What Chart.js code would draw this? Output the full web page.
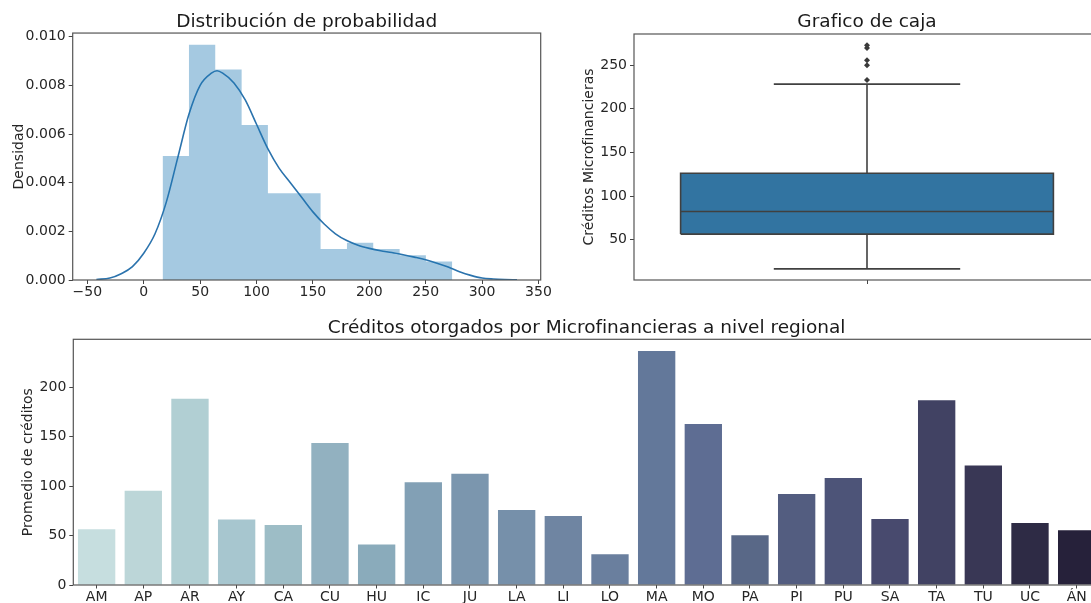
<!DOCTYPE html>
<html lang="es">
<head>
<meta charset="utf-8">
<title>Créditos otorgados por Microfinancieras</title>
<script src="https://cdn.jsdelivr.net/npm/chart.js@4.4.1/dist/chart.umd.min.js"></script>
<style>
  html, body { margin: 0; padding: 0; background: #fff; width: 1091px; height: 603px; overflow: hidden; }
  .panel { position: absolute; }
  #p1 { left: 0; top: 0; width: 560px; height: 303px; }
  #p2 { left: 560px; top: 0; width: 560px; height: 303px; }
  #p3 { left: 0; top: 303px; width: 1120px; height: 310px; }
</style>
</head>
<body>
<div class="panel" id="p1"><canvas id="c1"></canvas></div>
<div class="panel" id="p2"><canvas id="c2"></canvas></div>
<div class="panel" id="p3"><canvas id="c3"></canvas></div>
<script>
// ---- Distribución de probabilidad: histograma (densidad) + curva KDE ----
const histEdges = [16.7, 40.1, 63.4, 86.8, 110.1, 133.5, 156.8, 180.2, 203.5, 226.9, 250.2, 273.6];
const histDensity = [0.0051, 0.00967, 0.00865, 0.00637, 0.00357, 0.00357, 0.00127, 0.00153, 0.00127, 0.00102, 0.00076];
const kdeX = [-42, -30, -20, -10, 0, 10, 20, 30, 40, 50, 60, 65, 70, 80, 90, 100, 110, 120, 130, 140,
              150, 160, 170, 180, 190, 200, 210, 220, 230, 240, 250, 260, 270, 280, 290, 300, 310, 320, 331];
const kdeY = [0.00002, 0.00008, 0.00026, 0.00055, 0.0011, 0.0019, 0.0032, 0.0050, 0.0068, 0.0080, 0.0085, 0.0086,
              0.0085, 0.0081, 0.0074, 0.0064, 0.0054, 0.0046, 0.0040, 0.0034, 0.0028, 0.0023, 0.0019, 0.00162,
              0.00143, 0.0013, 0.0012, 0.00113, 0.00104, 0.00094, 0.00083, 0.00069, 0.00053, 0.00034, 0.00019,
              0.00008, 0.00004, 0.00002, 0.00001];
const distXTicks = [-50, 0, 50, 100, 150, 200, 250, 300, 350];
const distYTicks = [0, 0.002, 0.004, 0.006, 0.008, 0.010];

// ---- Gráfico de caja ----
const boxQuartiles = [56.5, 82.4, 126.2];   // Q1, mediana, Q3
const boxWhiskers = [16.7, 228.3];          // bigote inferior, bigote superior
const boxOutliers = [232.9, 250.0, 255.7, 269.8, 272.9];
const boxYTicks = [50, 100, 150, 200, 250];

// ---- Créditos promedio por región ----
const regions = ['AM', 'AP', 'AR', 'AY', 'CA', 'CU', 'HU', 'IC', 'JU', 'LA', 'LI',
                 'LO', 'MA', 'MO', 'PA', 'PI', 'PU', 'SA', 'TA', 'TU', 'UC', 'ÁN'];
const creditAvg = [56.3, 95.4, 188.2, 66.1, 60.7, 143.6, 40.9, 104.0, 112.4, 75.8, 69.8,
                   31.2, 236.6, 162.7, 50.3, 91.9, 108.3, 66.7, 186.8, 120.8, 62.7, 55.4];
const regionYTicks = [0, 50, 100, 150, 200];

// paleta secuencial clara -> oscura para las barras regionales
const regionColors = ['#c6dedf', '#bcd6d8', '#b1cfd3', '#a7c6cf', '#9dbdc6', '#92b1c0', '#8aabbb', '#82a0b5',
                      '#7b96ae', '#7690aa', '#6f85a2', '#6a7f9e', '#63789a', '#5e6d93', '#596887', '#535d80',
                      '#4d5478', '#484a6e', '#414263', '#393755', '#2e2b45', '#26213a'];

Chart.defaults.font.family = "'DejaVu Sans', 'Liberation Sans', sans-serif";
Chart.defaults.font.size = 14;
Chart.defaults.color = '#262626';
Chart.defaults.animation = false;
Chart.defaults.maintainAspectRatio = false;
Chart.defaults.plugins.legend.display = false;
Chart.defaults.plugins.tooltip.enabled = false;

const TICK_COLOR = '#444';

// marco completo alrededor del área de trazado
const frame = {
  id: 'frame',
  afterDatasetsDraw(chart) {
    const { ctx, chartArea: a } = chart;
    ctx.save();
    ctx.strokeStyle = '#555';
    ctx.lineWidth = 1.2;
    ctx.strokeRect(a.left, a.top, a.right - a.left, a.bottom - a.top);
    ctx.restore();
  }
};

function chartTitle(text, padTop, padBottom) {
  return {
    display: true, text, fullSize: false, color: '#1a1a1a',
    font: { size: 18.5, weight: 'normal', lineHeight: 1.1 },
    padding: { top: padTop, bottom: padBottom }
  };
}
function tickGrid(len, extra) {
  return Object.assign({
    display: true, drawOnChartArea: false, drawTicks: true,
    tickLength: len, color: TICK_COLOR, lineWidth: 1
  }, extra || {});
}
function axisTitle(text, padTop) {
  return { display: true, text, color: '#262626', font: { size: 14 }, padding: { top: padTop, bottom: 0 } };
}
const setTicks = values => scale => { scale.ticks = values.map(v => ({ value: v })); };

// contorno escalonado del histograma a partir de los bordes de clase
const histOutline = [];
histDensity.forEach((d, i) => {
  histOutline.push({ x: histEdges[i], y: d });
  histOutline.push({ x: histEdges[i + 1], y: d });
});

new Chart(document.getElementById('c1'), {
  type: 'line',
  data: {
    datasets: [
      {
        label: 'Histograma',
        data: histOutline,
        borderColor: 'transparent',
        borderWidth: 0,
        pointRadius: 0,
        fill: 'origin',
        backgroundColor: 'rgba(31,119,180,0.4)'
      },
      {
        label: 'Densidad KDE',
        data: kdeX.map((x, i) => ({ x, y: kdeY[i] })),
        borderColor: '#2b73ad',
        borderWidth: 1.6,
        pointRadius: 0,
        fill: false,
        cubicInterpolationMode: 'monotone'
      }
    ]
  },
  options: {
    layout: { padding: { left: 0, right: 19.3, top: 0, bottom: 0 } },
    plugins: { title: chartTitle('Distribución de probabilidad', 12.1, 0.6) },
    scales: {
      x: {
        type: 'linear', min: -63, max: 352,
        afterBuildTicks: setTicks(distXTicks),
        ticks: { padding: 0, maxRotation: 0, autoSkip: false, callback: v => String(v).replace('-', '\u2212') },
        grid: tickGrid(4),
        border: { display: false },
        afterFit: s => { s.height = 23; }
      },
      y: {
        type: 'linear', min: 0, max: 0.01015,
        afterBuildTicks: setTicks(distYTicks),
        ticks: { padding: 3, callback: v => v.toFixed(3) },
        grid: tickGrid(4),
        border: { display: false },
        title: axisTitle('Densidad', 10.8),
        afterFit: s => { s.width = 72.7; }
      }
    }
  },
  plugins: [frame]
});

// caja, mediana, bigotes y topes sobre un eje x continuo centrado en 0
const BOX_FILL = '#3274a1';
const LINE_GRAY = '#404040';
const BOX_HALF = 0.4;
const CAP_HALF = 0.2;
const boxLine = (pts, order) => ({
  data: pts, borderColor: LINE_GRAY, borderWidth: 1.6, pointRadius: 0, fill: false, order: order || 1
});

new Chart(document.getElementById('c2'), {
  type: 'line',
  data: {
    datasets: [
      {
        label: 'Q3',
        data: [{ x: -BOX_HALF, y: boxQuartiles[2] }, { x: BOX_HALF, y: boxQuartiles[2] }],
        borderColor: 'transparent', borderWidth: 0, pointRadius: 0,
        fill: '+1', backgroundColor: BOX_FILL, order: 3
      },
      {
        label: 'Q1',
        data: [{ x: -BOX_HALF, y: boxQuartiles[0] }, { x: BOX_HALF, y: boxQuartiles[0] }],
        borderColor: 'transparent', borderWidth: 0, pointRadius: 0, fill: false, order: 3
      },
      boxLine([
        { x: -BOX_HALF, y: boxQuartiles[0] }, { x: -BOX_HALF, y: boxQuartiles[2] },
        { x: BOX_HALF, y: boxQuartiles[2] }, { x: BOX_HALF, y: boxQuartiles[0] },
        { x: -BOX_HALF, y: boxQuartiles[0] }
      ], 2),
      boxLine([{ x: -BOX_HALF, y: boxQuartiles[1] }, { x: BOX_HALF, y: boxQuartiles[1] }]),
      boxLine([{ x: 0, y: boxQuartiles[2] }, { x: 0, y: boxWhiskers[1] }]),
      boxLine([{ x: 0, y: boxQuartiles[0] }, { x: 0, y: boxWhiskers[0] }]),
      boxLine([{ x: -CAP_HALF, y: boxWhiskers[1] }, { x: CAP_HALF, y: boxWhiskers[1] }]),
      boxLine([{ x: -CAP_HALF, y: boxWhiskers[0] }, { x: CAP_HALF, y: boxWhiskers[0] }]),
      {
        type: 'scatter', label: 'Atípicos',
        data: boxOutliers.map(v => ({ x: 0, y: v })),
        pointStyle: 'rectRot', pointRadius: 3, borderWidth: 0,
        backgroundColor: '#3a3a3a', order: 0
      }
    ]
  },
  options: {
    layout: { padding: { left: 0, right: 20, top: 0, bottom: 0 } },
    plugins: { title: chartTitle('Grafico de caja', 12.2, 1.45) },
    scales: {
      x: {
        type: 'linear', min: -0.5, max: 0.5,
        afterBuildTicks: setTicks([0]),
        ticks: { padding: 0, callback: () => '' },
        grid: tickGrid(4),
        border: { display: false },
        afterFit: s => { s.height = 23; }
      },
      y: {
        type: 'linear', min: 3.9, max: 285.7,
        afterBuildTicks: setTicks(boxYTicks),
        ticks: { padding: 3 },
        grid: tickGrid(4),
        border: { display: false },
        title: axisTitle('Créditos Microfinancieras', 20.5),
        afterFit: s => { s.width = 74; }
      }
    }
  },
  plugins: [frame]
});

new Chart(document.getElementById('c3'), {
  type: 'bar',
  data: {
    labels: regions,
    datasets: [{
      label: 'Promedio de créditos',
      data: creditAvg,
      backgroundColor: regionColors,
      borderWidth: 0,
      categoryPercentage: 1,
      barPercentage: 0.8
    }]
  },
  options: {
    layout: { padding: { left: 0, right: 20, top: 0, bottom: 0 } },
    plugins: { title: chartTitle('Créditos otorgados por Microfinancieras a nivel regional', 15.2, 0.75) },
    scales: {
      x: {
        type: 'category', offset: true,
        ticks: { padding: 0, maxRotation: 0, autoSkip: false },
        grid: tickGrid(3.5, { offset: false }),
        border: { display: false },
        afterFit: s => { s.height = 28; }
      },
      y: {
        type: 'linear', min: 0, max: 248.4,
        afterBuildTicks: setTicks(regionYTicks),
        ticks: { padding: 3 },
        grid: tickGrid(4),
        border: { display: false },
        title: axisTitle('Promedio de créditos', 20.4),
        afterFit: s => { s.width = 73.3; }
      }
    }
  },
  plugins: [frame]
});
</script>
</body>
</html>
